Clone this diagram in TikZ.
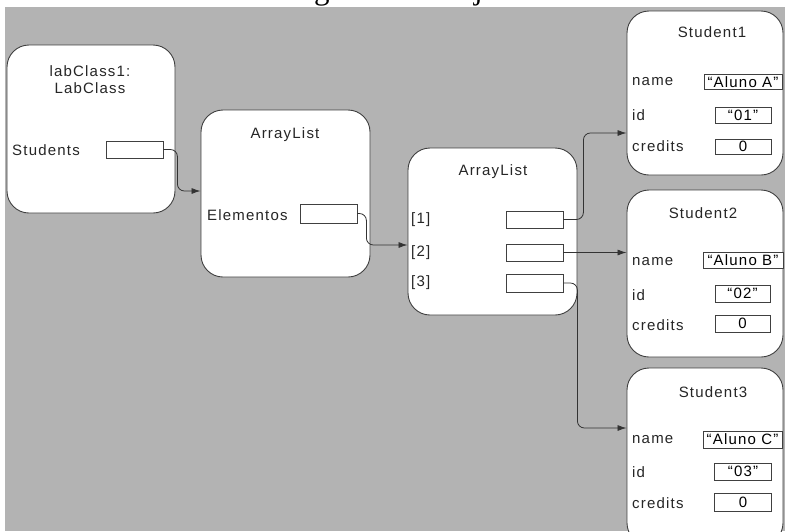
\documentclass[tikz,border=0pt]{standalone}
\usepackage{fontspec}
\setmainfont{Liberation Sans}[LetterSpace=8]
\newfontfamily\titlefont{Liberation Serif}
\usetikzlibrary{arrows.meta}
\definecolor{bggrey}{HTML}{B3B3B3}
\definecolor{edge}{HTML}{404040}
\definecolor{wire}{HTML}{333333}
\tikzset{
  objbox/.style={draw=edge, line width=0.9pt, fill=white, rounded corners=22pt, inner sep=0pt},
  fieldbox/.style={draw=edge, line width=0.8pt, fill=white, inner sep=0pt, minimum width=57pt, minimum height=17pt, font=\fontsize{15}{15}\selectfont},
  valbox/.style={draw=edge, line width=0.8pt, fill=white, inner sep=0pt, minimum height=16pt, font=\fontsize{15}{15}\selectfont},
  lbl/.style={inner sep=0pt, font=\fontsize{15}{17}\selectfont, text=black!85},
  ttl/.style={inner sep=0pt, font=\fontsize{15}{17}\selectfont, text=black!85, align=center},
  conn/.style={draw=wire, line width=0.8pt, rounded corners=7pt, -{Latex[length=9pt,width=6pt]}}
}
\begin{document}
\begin{tikzpicture}[x=1pt,y=-1pt]
\useasboundingbox (0,0) rectangle (785,531);
\fill[white] (0,0) rectangle (785,531);
\begin{scope}
\clip (0,0) rectangle (785,7);
\node[anchor=base, inner sep=0pt, font=\titlefont\fontsize{31}{31}\selectfont] (title) at (401,-1) {Diagrama de Objetos};
\end{scope}
\fill[bggrey] (5,7) rectangle (785,531);

% object boxes
\node[objbox, minimum width=168pt, minimum height=168pt] (lab) at (91,129) {};
\node[objbox, minimum width=169pt, minimum height=167pt] (al1) at (285.5,193.5) {};
\node[objbox, minimum width=169pt, minimum height=167pt] (al2) at (492.5,231.5) {};
\node[objbox, minimum width=156pt, minimum height=164pt] (s1) at (705,93) {};
\node[objbox, minimum width=156pt, minimum height=167pt] (s2) at (705,273.5) {};
\node[objbox, minimum width=156pt, minimum height=177pt] (s3) at (705,456.5) {};

% labClass1
\node[ttl] (labt) at (90,80) {labClass1:\\LabClass};
\node[lbl, anchor=west] (labs) at (12,150) {Students};
\node[fieldbox] (fs) at (134.5,149.5) {};

% ArrayList 1
\node[ttl] (al1t) at (285,135) {ArrayList};
\node[lbl, anchor=west] (al1e) at (207,215) {Elementos};
\node[fieldbox, minimum height=19pt] (fe) at (328.5,213.5) {};

% ArrayList 2
\node[ttl] (al2t) at (493,172) {ArrayList};
\node[lbl, anchor=west] (i1) at (411,220) {[1]};
\node[lbl, anchor=west] (i2) at (411,253) {[2]};
\node[lbl, anchor=west] (i3) at (411,283) {[3]};
\node[fieldbox] (f1) at (534.5,219.5) {};
\node[fieldbox] (f2) at (534.5,252.5) {};
\node[fieldbox, minimum height=18pt] (f3) at (534.5,283) {};

% Student1
\node[ttl] (s1t) at (712,32) {Student1};
\node[lbl, anchor=west] (s1n) at (632,82) {name};
\node[lbl, anchor=west] (s1i) at (632,115) {id};
\node[lbl, anchor=west] (s1c) at (632,146) {credits};
\node[valbox, minimum width=78pt, minimum height=15pt] (s1nv) at (743,82) {“Aluno A”};
\node[valbox, minimum width=56pt] (s1iv) at (743,115) {“01”};
\node[valbox, minimum width=56pt, minimum height=15pt] (s1cv) at (743,146.5) {0};

% Student2
\node[ttl] (s2t) at (703,213) {Student2};
\node[lbl, anchor=west] (s2n) at (632,262) {name};
\node[lbl, anchor=west] (s2i) at (632,295) {id};
\node[lbl, anchor=west] (s2c) at (632,325) {credits};
\node[valbox, minimum width=80pt] (s2nv) at (743,260) {“Aluno B”};
\node[valbox, minimum width=55pt, minimum height=17pt] (s2iv) at (742.5,293.5) {“02”};
\node[valbox, minimum width=55pt, minimum height=17pt] (s2cv) at (742.5,323.5) {0};

% Student3
\node[ttl] (s3t) at (713,392) {Student3};
\node[lbl, anchor=west] (s3n) at (632,440) {name};
\node[lbl, anchor=west] (s3i) at (632,472) {id};
\node[lbl, anchor=west] (s3c) at (632,503) {credits};
\node[valbox, minimum width=79pt, minimum height=17pt] (s3nv) at (742.5,439.5) {“Aluno C”};
\node[valbox, minimum width=57pt, minimum height=17pt] (s3iv) at (743,471.5) {“03”};
\node[valbox, minimum width=57pt, minimum height=18pt] (s3cv) at (743,502) {0};

% connector end points on box borders
\coordinate (t1) at (al1.west |- 0,191);
\coordinate (t2) at (al2.west |- 0,245);
\coordinate (t3) at (s1.west |- 0,133);
\coordinate (t5) at (s3.west |- 0,428);

% connectors
\draw[conn] (fs.east) -| ([xshift=14pt]fs.east |- t1) -- (t1);
\draw[conn] (fe.east) -| ([xshift=9pt]fe.east |- t2) -- (t2);
\draw[conn] (f1.east) -| ([xshift=20pt]f1.east |- t3) -- (t3);
\draw[conn] (f2.east) -- (s2.west |- f2.east);
\draw[conn] (f3.east) -| ([xshift=14pt]f3.east |- t5) -- (t5);
\end{tikzpicture}
\end{document}
